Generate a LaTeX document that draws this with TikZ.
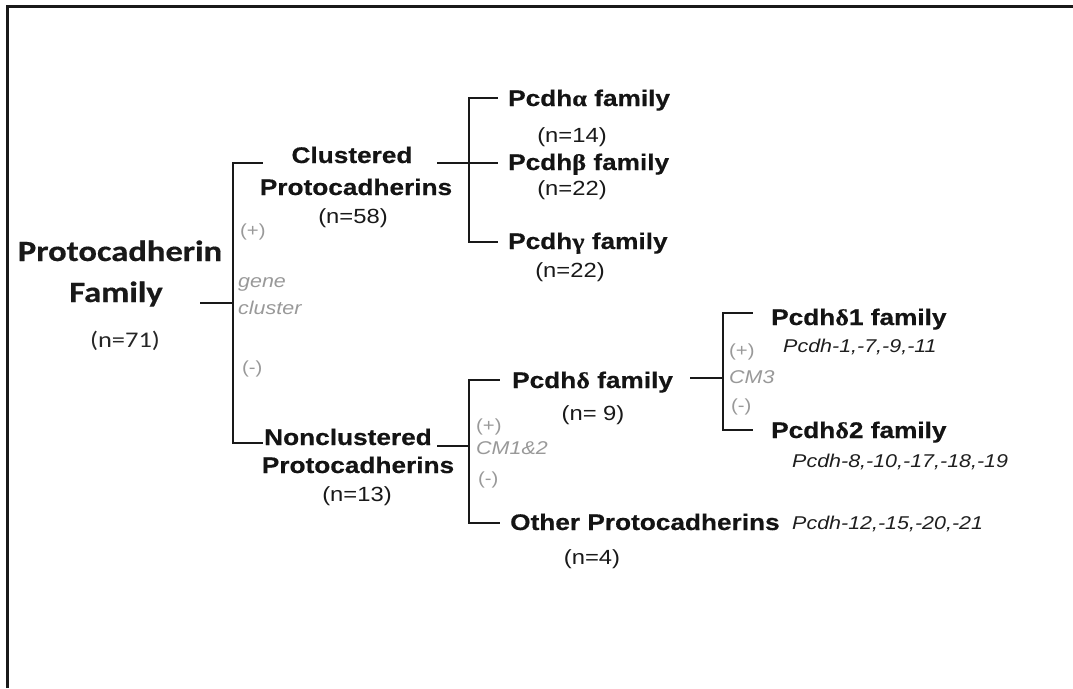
\documentclass[tikz,border=0pt]{standalone}
\usepackage{fontspec}
\setmainfont{Liberation Sans}
\newfontfamily\hvfont[FakeStretch=1.16, BoldFeatures={FakeBold=0.5}]{Liberation Sans}
\newfontfamily\grfont[FakeStretch=1.16, BoldFeatures={FakeBold=0.5}]{Liberation Serif}
\newfontfamily\calfont[FakeStretch=1.18, BoldFeatures={FakeBold=0.4}]{Carlito}
\begin{document}
\begin{tikzpicture}[x=1pt,y=-1pt,
  conn/.style={line width=2.7pt, draw=black!90},
  frame/.style={line width=2.8pt, draw=black!90},
  lab/.style={inner sep=0pt, font=\hvfont\bfseries\fontsize{22.6}{24}\selectfont, anchor=base west, text=black!92},
  labc/.style={lab, anchor=base},
  cnt/.style={inner sep=0pt, font=\hvfont\fontsize{20.5}{22}\selectfont, anchor=base, text=black!90},
  ttl/.style={inner sep=0pt, font=\calfont\bfseries\fontsize{29.3}{31}\selectfont, anchor=base, text=black!90},
  ttln/.style={inner sep=0pt, font=\calfont\fontsize{22.4}{24}\selectfont, anchor=base, text=black!85},
  gp/.style={inner sep=0pt, font=\hvfont\fontsize{17.5}{19}\selectfont, anchor=base west, text=black!40},
  gi/.style={inner sep=0pt, font=\hvfont\itshape\fontsize{18.5}{20}\selectfont, anchor=base west, text=black!40},
  gen/.style={inner sep=0pt, font=\hvfont\itshape\fontsize{18.5}{20}\selectfont, anchor=base west, text=black!88}]
\useasboundingbox (0,0) rectangle (1073,688);
\fill[white] (0,0) rectangle (1073,688);
% frame
\coordinate (fbl) at (7.5,688);
\coordinate (ftl) at (7.5,6.5);
\coordinate (ftr) at (1073,6.5);
\draw[frame] (fbl) -- (ftl) -- (ftr);

% root
\node[ttl] (t1) at (120,261) {Protocadherin};
\node[ttl] (t2) at (116,302) {Family};
\node[ttln] (t3) at (125,347) {(n=71)};

% level 1
\node[labc] (c1) at (352,163) {Clustered};
\node[labc] (c2) at (356,195) {Protocadherins};
\node[cnt] (c3) at (353,223) {(n=58)};
\node[labc] (n1) at (348,445) {Nonclustered};
\node[labc] (n2) at (358,473) {Protocadherins};
\node[cnt] (n3) at (357,501) {(n=13)};

% gray labels root
\node[gp] (g1) at (240,236) {(+)};
\node[gi] (g2) at (238,287) {gene};
\node[gi] (g3) at (238,314) {cluster};
\node[gp] (g4) at (242,373) {(-)};

% clustered children
\node[lab] (pa) at (508,106) {Pcdh{\grfont\bfseries α} family};
\node[cnt] (pan) at (572,142) {(n=14)};
\node[lab] (pb) at (508,170) {Pcdh{\grfont\bfseries β} family};
\node[cnt] (pbn) at (572,195) {(n=22)};
\node[lab] (pg) at (508,249) {Pcdh{\grfont\bfseries γ} family};
\node[cnt] (pgn) at (570,277) {(n=22)};

% nonclustered children
\node[lab] (pd) at (512,388) {Pcdh{\grfont\bfseries δ} family};
\node[cnt] (pdn) at (593,420) {(n= 9)};
\node[lab] (po) at (510,530) {Other Protocadherins};
\node[gen] (pol) at (792,529) {Pcdh-12,-15,-20,-21};
\node[cnt] (pon) at (592,564) {(n=4)};
\node[gp] (h1) at (476,431) {(+)};
\node[gi] (h2) at (476,454) {CM1\&2};
\node[gp] (h3) at (478,484) {(-)};

% delta children
\node[lab] (d1) at (771,325) {Pcdh{\grfont\bfseries δ}1 family};
\node[gen] (d1l) at (783,352) {Pcdh-1,-7,-9,-11};
\node[lab] (d2) at (771,438) {Pcdh{\grfont\bfseries δ}2 family};
\node[gen] (d2l) at (792,467) {Pcdh-8,-10,-17,-18,-19};
\node[gp] (k1) at (729,356) {(+)};
\node[gi] (k2) at (729,383) {CM3};
\node[gp] (k3) at (731,411) {(-)};

% connector coordinates
\coordinate (r0) at (200,303);
\coordinate (rj) at (233,303);
\coordinate (rc) at (263,163);
\coordinate (rn) at (263,443);
\coordinate (c0) at (437,163);
\coordinate (cj) at (469,163);
\coordinate (ca) at (498,98);
\coordinate (cb) at (498,163);
\coordinate (cg) at (498,242);
\coordinate (n0) at (437,446);
\coordinate (nj) at (469,446);
\coordinate (nd) at (500,380);
\coordinate (no) at (500,523);
\coordinate (d0) at (690,378);
\coordinate (dj) at (723,378);
\coordinate (da) at (753,313);
\coordinate (db) at (753,430);

\draw[conn] (r0) -- (rj);
\draw[conn] (rj) |- (rc);
\draw[conn] (rj) |- (rn);
\draw[conn] (c0) -- (cj);
\draw[conn] (cj) |- (ca);
\draw[conn] (cj) -- (cb);
\draw[conn] (cj) |- (cg);
\draw[conn] (n0) -- (nj);
\draw[conn] (nj) |- (nd);
\draw[conn] (nj) |- (no);
\draw[conn] (d0) -- (dj);
\draw[conn] (dj) |- (da);
\draw[conn] (dj) |- (db);
\end{tikzpicture}
\end{document}
